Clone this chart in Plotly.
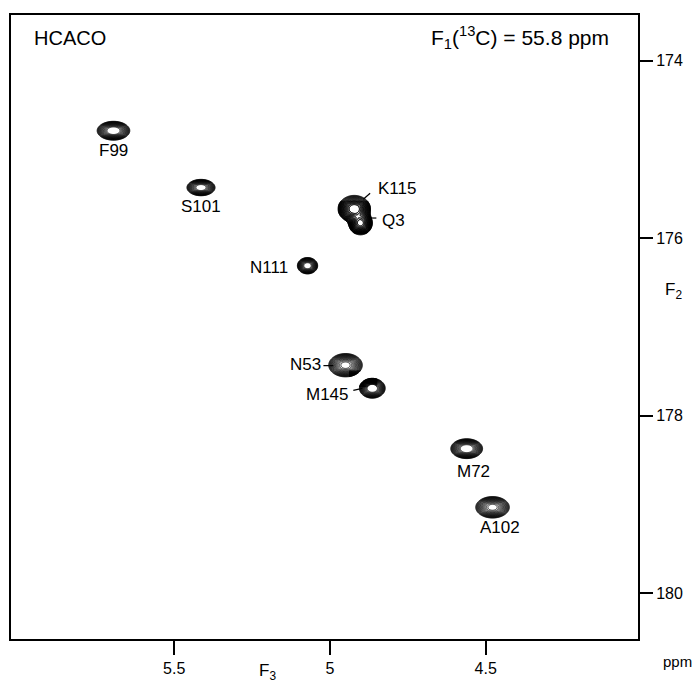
import numpy as np
import plotly.graph_objects as go

# ---------------- data ----------------
peak_names = ["F99", "S101", "K115", "Q3", "N111", "N53", "M145", "M72", "A102"]
peak_h = [5.695, 5.414, 4.922, 4.902, 5.072, 4.950, 4.864, 4.561, 4.478]      # F3 (1H) ppm
peak_c = [174.79, 175.43, 175.67, 175.83, 176.31, 177.43, 177.69, 178.37, 179.03]  # F2 (13C) ppm
width_h = [0.0190, 0.0166, 0.0195, 0.0145, 0.0120, 0.0205, 0.0150, 0.0185, 0.0205]
width_c = [0.0385, 0.0340, 0.0570, 0.0510, 0.0340, 0.0500, 0.0405, 0.0405, 0.0460]
amp = [45, 40, 35, 30, 40, 32, 45, 45, 32]

label_h = [5.695, 5.414, 4.784, 4.797, 5.196, 5.078, 5.008, 4.540, 4.455]
label_c = [175.01, 175.64, 175.44, 175.80, 176.33, 177.42, 177.76, 178.63, 179.26]

leader_h0 = [4.893, 4.871, 5.021, 4.925]
leader_c0 = [175.561, 175.773, 177.435, 177.714]
leader_h1 = [4.871, 4.851, 4.989, 4.896]
leader_c1 = [175.494, 175.773, 177.435, 177.691]

x_ticks = [5.5, 5.0, 4.5]
x_ticktext = ["5.5", "5", "4.5"]
y_ticks = [174, 176, 178, 180]
x_range = [6.024, 4.011]
y_range = [180.513, 173.487]

FONT = "Liberation Sans, Arial, Helvetica, sans-serif"

# ---------------- figure ----------------
fig = go.Figure()


def field(X, Y):
    Z = np.zeros_like(X)
    for h, c, sh, sc, a in zip(peak_h, peak_c, width_h, width_c, amp):
        Z += a * np.exp(-0.5 * (((X - h) / sh) ** 2 + ((Y - c) / sc) ** 2))
    return Z


for h, c, sh, sc in zip(peak_h, peak_c, width_h, width_c):
    xs = np.linspace(h - 5 * sh, h + 5 * sh, 110)
    ys = np.linspace(c - 5 * sc, c + 5 * sc, 110)
    X, Y = np.meshgrid(xs, ys)
    Z = np.log(field(X, Y) + 1e-9)
    fig.add_trace(go.Contour(
        x=xs, y=ys, z=Z,
        contours=dict(coloring="lines", start=0.0, end=3.3, size=0.2),
        line=dict(width=0.8, color="black"),
        colorscale=[[0, "black"], [1, "black"]],
        showscale=False, hoverinfo="skip",
    ))

for name, lh, lc in zip(peak_names, label_h, label_c):
    fig.add_annotation(x=lh, y=lc, text=name, showarrow=False,
                       font=dict(family=FONT, size=17, color="black"),
                       xanchor="center", yanchor="middle")

for h0, c0, h1, c1 in zip(leader_h0, leader_c0, leader_h1, leader_c1):
    fig.add_shape(type="line", x0=h0, y0=c0, x1=h1, y1=c1,
                  line=dict(color="black", width=1.2), xref="x", yref="y")

fig.update_layout(
    width=692, height=686,
    margin=dict(l=9, r=53, t=15, b=41),
    paper_bgcolor="white", plot_bgcolor="white",
    showlegend=False,
    font=dict(family=FONT, size=16, color="black"),
    xaxis=dict(range=x_range, tickvals=x_ticks, ticktext=x_ticktext,
               ticks="outside", ticklen=14, tickwidth=1.5, tickcolor="black",
               showline=True, linecolor="black", linewidth=2, mirror=True,
               showgrid=False, zeroline=False, tickfont=dict(size=16)),
    yaxis=dict(range=y_range, tickvals=y_ticks, side="right",
               ticks="outside", ticklen=13, tickwidth=1.5, tickcolor="black",
               showline=True, linecolor="black", linewidth=2, mirror=True,
               showgrid=False, zeroline=False, tickfont=dict(size=16)),
)

# text placed by pixel positions converted to paper coordinates
plot_w, plot_h = 692 - 9 - 53, 686 - 15 - 41


def px_to_paper(px, py):
    return (px - 9) / plot_w, (686 - 41 - py) / plot_h


def add_text(px, py, text, size, anchor="center"):
    fx, fy = px_to_paper(px, py)
    fig.add_annotation(x=fx, y=fy, xref="paper", yref="paper", text=text,
                       showarrow=False, xanchor=anchor, yanchor="middle",
                       font=dict(family=FONT, size=size, color="black"))


add_text(30, 38, "HCACO", 20, "left")
add_text(612, 38, "F<sub>1</sub>(<sup>13</sup>C) = 55.8 ppm", 21, "right")
add_text(267, 678, "F<sub>3</sub>", 17)
add_text(675, 294, "F<sub>2</sub>", 17)
add_text(679, 668, "ppm", 15)

fig.write_html("out.html", config={"displayModeBar": False},
               post_script="document.body.style.margin='0';document.body.style.overflow='hidden';")
